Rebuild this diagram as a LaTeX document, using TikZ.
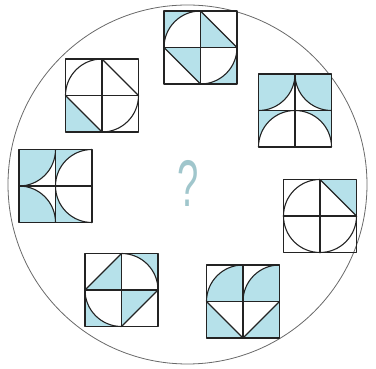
\documentclass[tikz,border=0pt]{standalone}
\usepackage{fontspec}
\setsansfont{Liberation Sans}
\definecolor{tileblue}{RGB}{182,225,234}
\definecolor{qmarkblue}{RGB}{160,198,204}
\definecolor{ringgray}{RGB}{105,105,105}
\definecolor{inkdark}{RGB}{35,35,35}

\begin{document}
\begin{tikzpicture}[
    x=1pt, y=1pt,
    % Style definitions
    ring/.style={draw=ringgray, line width=0.8pt},
    tileline/.style={draw=inkdark, line width=1.1pt, line join=round},
    shaded/.style={fill=tileblue},
    tile/.style={scale=36.5}
]
    \useasboundingbox (0,0) rectangle (376,369);

    % === OUTER RING ===
    \draw[ring] (187.5,184.5) circle[radius=179.5];

    % === TILE 1: top ===
    \begin{scope}[shift={(200.5,321.5)}, tile]
        \fill[shaded] (-1,0) arc[start angle=180, end angle=90, radius=1] -- (-1,1) -- cycle;
        \fill[shaded] (0,1) -- (1,0) -- (0,0) -- cycle;
        \fill[shaded] (-1,0) -- (0,-1) -- (0,0) -- cycle;
        \fill[shaded] (1,0) arc[start angle=0, end angle=-90, radius=1] -- (1,-1) -- cycle;
        \draw[tileline] (-1,-1) rectangle (1,1) (-1,0) -- (1,0) (0,-1) -- (0,1);
        \draw[tileline] (-1,0) arc[start angle=180, end angle=90, radius=1];
        \draw[tileline] (0,1) -- (1,0) (-1,0) -- (0,-1);
        \draw[tileline] (1,0) arc[start angle=0, end angle=-90, radius=1];
    \end{scope}

    % === TILE 2: upper left ===
    \begin{scope}[shift={(102,273.5)}, tile]
        \fill[shaded] (-1,0) -- (-1,-1) -- (0,-1) -- cycle;
        \draw[tileline] (-1,-1) rectangle (1,1) (-1,0) -- (1,0) (0,-1) -- (0,1);
        \draw[tileline] (-1,0) arc[start angle=180, end angle=90, radius=1];
        \draw[tileline] (0,1) -- (1,0) (-1,0) -- (0,-1);
        \draw[tileline] (1,0) arc[start angle=0, end angle=-90, radius=1];
    \end{scope}

    % === TILE 3: upper right ===
    \begin{scope}[shift={(295,258.5)}, tile]
        \fill[shaded] (-1,1) -- (0,1) arc[start angle=0, end angle=-90, radius=1] -- cycle;
        \fill[shaded] (1,1) -- (0,1) arc[start angle=180, end angle=270, radius=1] -- cycle;
        \fill[shaded] (-1,0) -- (-1,-1) arc[start angle=180, end angle=90, radius=1] -- cycle;
        \fill[shaded] (1,0) -- (1,-1) arc[start angle=0, end angle=90, radius=1] -- cycle;
        \draw[tileline] (-1,-1) rectangle (1,1) (-1,0) -- (1,0) (0,-1) -- (0,1);
        \draw[tileline] (0,1) arc[start angle=0, end angle=-90, radius=1];
        \draw[tileline] (0,1) arc[start angle=180, end angle=270, radius=1];
        \draw[tileline] (-1,-1) arc[start angle=180, end angle=0, radius=1];
    \end{scope}

    % === TILE 4: left ===
    \begin{scope}[shift={(55.5,183)}, tile, rotate=90]
        \fill[shaded] (-1,1) -- (0,1) arc[start angle=0, end angle=-90, radius=1] -- cycle;
        \fill[shaded] (1,1) -- (0,1) arc[start angle=180, end angle=270, radius=1] -- cycle;
        \fill[shaded] (-1,0) -- (-1,-1) arc[start angle=180, end angle=90, radius=1] -- cycle;
        \fill[shaded] (1,0) -- (1,-1) arc[start angle=0, end angle=90, radius=1] -- cycle;
        \draw[tileline] (-1,-1) rectangle (1,1) (-1,0) -- (1,0) (0,-1) -- (0,1);
        \draw[tileline] (0,1) arc[start angle=0, end angle=-90, radius=1];
        \draw[tileline] (0,1) arc[start angle=180, end angle=270, radius=1];
        \draw[tileline] (-1,-1) arc[start angle=180, end angle=0, radius=1];
    \end{scope}

    % === TILE 5: right ===
    \begin{scope}[shift={(320,153)}, tile]
        \fill[shaded] (0,1) -- (1,1) -- (1,0) -- cycle;
        \draw[tileline] (-1,-1) rectangle (1,1) (-1,0) -- (1,0) (0,-1) -- (0,1);
        \draw[tileline] (-1,0) arc[start angle=180, end angle=90, radius=1];
        \draw[tileline] (0,1) -- (1,0);
        \draw[tileline] (1,0) arc[start angle=0, end angle=-180, radius=1];
    \end{scope}

    % === TILE 6: lower left ===
    \begin{scope}[shift={(121.5,79)}, tile]
        \fill[shaded] (-1,0) -- (0,1) -- (0,0) -- cycle;
        \fill[shaded] (0,1) arc[start angle=90, end angle=0, radius=1] -- (1,1) -- cycle;
        \fill[shaded] (0,-1) arc[start angle=270, end angle=180, radius=1] -- (-1,-1) -- cycle;
        \fill[shaded] (0,-1) -- (1,0) -- (0,0) -- cycle;
        \draw[tileline] (-1,-1) rectangle (1,1) (-1,0) -- (1,0) (0,-1) -- (0,1);
        \draw[tileline] (-1,0) -- (0,1) (0,-1) -- (1,0);
        \draw[tileline] (0,1) arc[start angle=90, end angle=0, radius=1];
        \draw[tileline] (0,-1) arc[start angle=270, end angle=180, radius=1];
    \end{scope}

    % === TILE 7: lower right ===
    \begin{scope}[shift={(243,67.5)}, tile]
        \fill[shaded] (0,0) -- (-1,0) arc[start angle=180, end angle=90, radius=1] -- cycle;
        \fill[shaded] (1,0) -- (0,0) arc[start angle=180, end angle=90, radius=1] -- cycle;
        \fill[shaded] (-1,0) -- (-1,-1) -- (0,-1) -- cycle;
        \fill[shaded] (1,0) -- (1,-1) -- (0,-1) -- cycle;
        \draw[tileline] (-1,-1) rectangle (1,1) (-1,0) -- (1,0) (0,-1) -- (0,1);
        \draw[tileline] (-1,0) arc[start angle=180, end angle=90, radius=1];
        \draw[tileline] (0,0) arc[start angle=180, end angle=90, radius=1];
        \draw[tileline] (-1,0) -- (0,-1) -- (1,0);
    \end{scope}

    % === CENTRE ===
    \node (qmark) [font=\sffamily\fontsize{66}{66}\selectfont, text=qmarkblue, xscale=0.58] at (188,186) {?};

\end{tikzpicture}
\end{document}
